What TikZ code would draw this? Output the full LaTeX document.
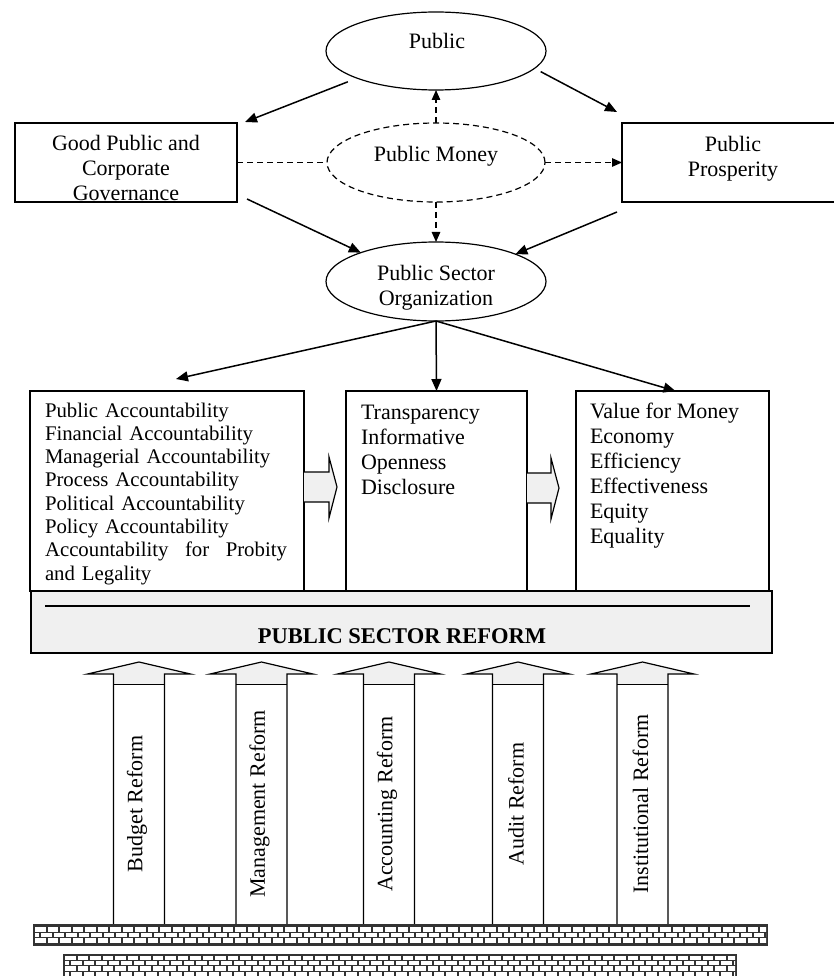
\documentclass[tikz,border=0pt]{standalone}
\usepackage{fontspec}
\setmainfont{Liberation Serif}
\usetikzlibrary{shapes.geometric,arrows.meta,calc}
\begin{document}
\begin{tikzpicture}[x=1pt,y=-1pt,
  every node/.style={inner sep=0pt, outer sep=0pt},
  lbl/.style={font=\fontsize{22}{25}\selectfont},
  lbls/.style={font=\fontsize{20.8}{23.3}\selectfont},
  ell/.style={ellipse, draw, line width=1.2pt, minimum width=220pt, minimum height=78pt},
  rbox/.style={draw, line width=1.2pt, fill=white},
  arr/.style={line width=1.5pt, -{Triangle[length=12pt,width=10pt]}},
  darr/.style={line width=1.2pt, dash pattern=on 6pt off 4pt, -{Triangle[length=10pt,width=8.5pt]}},
  dline/.style={line width=1.2pt, dash pattern=on 6pt off 4pt},
  blk/.style={fill=gray!12, draw, line width=1.2pt, line join=miter},
  brick/.style={fill=white},
]
\useasboundingbox (0,0) rectangle (834,976);

% top part
\node[ell] (pub) at (436,51) {};
\node[lbl, anchor=base] (publbl) at (437,49) {Public};

\node[ell, dash pattern=on 6pt off 4pt, minimum width=218pt, minimum height=79pt] (money) at (436,162.5) {};
\node[lbl, anchor=base] (moneylbl) at (436,162) {Public Money};

\node[rbox, minimum width=222pt, minimum height=79pt] (gov) at (126,162.5) {};
\node[lbl, align=center, anchor=north] (govlbl) at (126,133.5) {\strut Good Public and\\Corporate\\Governance};

\node[rbox, minimum width=224pt, minimum height=79pt] (pros) at (734,162.5) {};
\node[lbl, align=center, anchor=north] (proslbl) at (733,134.5) {\strut Public\\Prosperity};

\node[ell, minimum height=79pt] (pso) at (436,281.5) {};
\node[lbl, align=center, anchor=north] (psolbl) at (436,262.5) {\strut Public Sector\\Organization};

\draw[arr, shorten <=10pt] (pub.199) -- ($(gov.north east)+(8,-1)$);
\draw[arr, shorten <=7pt] (pub.350) -- ($(pros.north west)+(-5,-11)$);
\draw[arr] ($(gov.south east)+(10,-3)$) -- (pso.159);
\draw[arr] ($(pros.south west)+(-5,10)$) -- (pso.19);

\draw[darr] (money.north) -- (pub.south);
\draw[darr] (money.south) -- (pso.north);
\draw[darr] (money.east) -- (pros.west);
\draw[dline] (gov.east) -- (money.west);

% three boxes
\node[rbox, minimum width=274pt, minimum height=200pt] (acc) at (167,491) {};
\node[rbox, minimum width=181pt, minimum height=200pt] (trn) at (436.5,491) {};
\node[rbox, minimum width=193pt, minimum height=200pt] (vfm) at (672.5,491) {};

\node[lbls, anchor=north west, text width=242pt, align=left] (acctxt) at (45,400.7)
  {\strut Public Accountability\\ Financial Accountability\\ Managerial Accountability\\ Process Accountability\\ Political Accountability\\ Policy Accountability\\ \leavevmode\hbox to 242pt{Accountability\hfill for\hfill Probity}\\ and Legality};
\node[lbl, anchor=north west, align=left] (trntxt) at (361,401.5)
  {\strut Transparency\\Informative\\Openness\\Disclosure};
\node[lbl, anchor=north west, align=left] (vfmtxt) at (590,400.5)
  {\strut Value for Money\\Economy\\Efficiency\\Effectiveness\\Equity\\Equality};

\draw[arr] (pso.south) -- ($(acc.north)+(9,-12)$);
\draw[arr] (pso.south) -- (trn.north);
\draw[arr] (pso.south) -- ($(vfm.north)+(3,0)$);

% block arrows between boxes
\draw[blk] (304,472) -- (329,472) -- (329,457) -- (337,487) -- (329,518) -- (329,502) -- (304,502);
\draw[blk] (527,473) -- (551,473) -- (551,458) -- (559,488) -- (551,519) -- (551,503) -- (527,503);

% reform band
\node[draw, fill=gray!12, line width=1.2pt, minimum width=741pt, minimum height=62pt] (band) at (401.5,622) {};
\draw[line width=1.4pt] ($(band.north west)+(14,15)$) -- ($(band.north east)+(-22,15)$);
\node[font=\bfseries\fontsize{22.5}{25}\selectfont, anchor=base] (psr) at (402,643) {PUBLIC SECTOR REFORM};

% up arrows
\foreach \cx/\txt/\nm in {139/Budget Reform/r1, 261.5/Management Reform/r2, 389/Accounting Reform/r3, 518/Audit Reform/r4, 642.5/Institutional Reform/r5} {
  \fill[gray!12] ({\cx-25.5},684) -- ({\cx-25.5},674) -- ({\cx-51.5},674) -- (\cx,662) -- ({\cx+51.5},674) -- ({\cx+25.5},674) -- ({\cx+25.5},684) -- cycle;
  \draw[line width=1.2pt] ({\cx-25.5},924) -- ({\cx-25.5},674) -- ({\cx-51.5},674) -- (\cx,662) -- ({\cx+51.5},674) -- ({\cx+25.5},674) -- ({\cx+25.5},924);
  \draw[line width=1pt] ({\cx-25.5},684) -- ({\cx+25.5},684);
  \node[lbl, rotate=90] (\nm) at ({\cx-2},804) {\txt};
}

% bricks
\fill[black!80] (33,924) rectangle (768,946);
\begin{scope}
  \clip (35,926.5) rectangle (766,943);
  \foreach \r in {0,1,2} {
    \foreach \c in {0,...,60} {
      \fill[brick] ({35+\c*12.5-mod(\r,2)*6.25},{927.3+\r*5.5}) rectangle ++(10.5,4.3);
    }
  }
\end{scope}
\fill[black!80] (63,954) rectangle (737,980);
\begin{scope}
  \clip (65,955.5) rectangle (735,980);
  \foreach \r in {0,1,2,3} {
    \foreach \c in {0,...,55} {
      \fill[brick] ({65+\c*12.5-mod(\r,2)*6.25},{955.7+\r*5.35}) rectangle ++(10.5,4.2);
    }
  }
\end{scope}
\end{tikzpicture}
\end{document}
